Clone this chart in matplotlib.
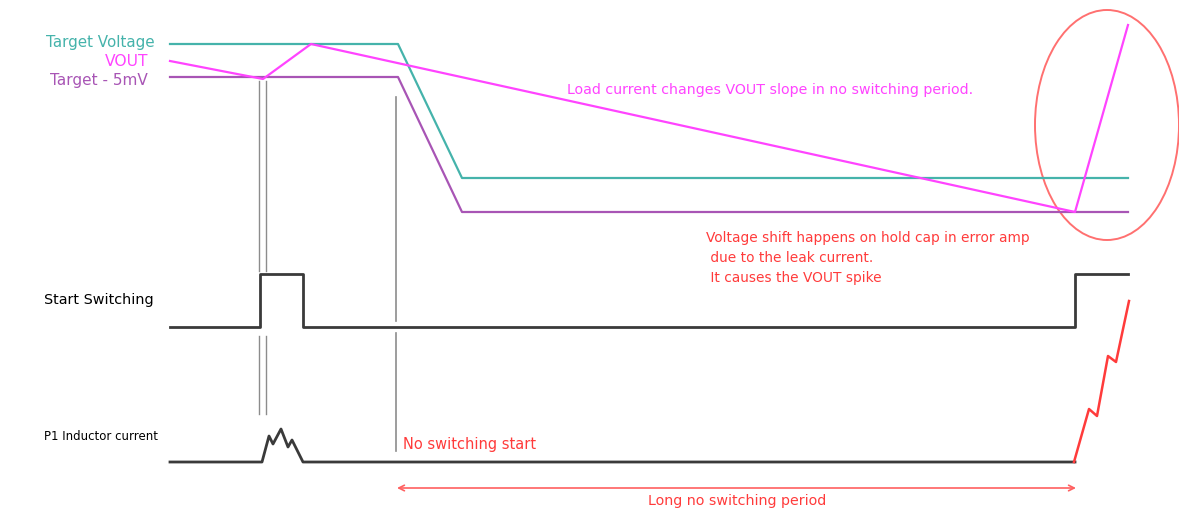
"""
Timing diagram: VOUT behaviour during a long no-switching period.
"""

import matplotlib.pyplot as plt
from matplotlib.patches import Ellipse

# waveform vertices (time axis, level axis), pixel units
target_t = [170, 398, 462, 1128]
target_v = [44, 44, 178, 178]

target_5mv_t = [170, 398, 462, 1128]
target_5mv_v = [77, 77, 212, 212]

vout_t = [170, 263, 311, 1075, 1128]
vout_v = [61, 79, 44, 212, 25]

start_sw_t = [170, 260, 260, 303, 303, 1075, 1075, 1128]
start_sw_v = [327, 327, 274, 274, 327, 327, 274, 274]

inductor_t = [170, 262, 269, 273, 281, 288, 292, 303, 1075]
inductor_v = [462, 462, 436, 444, 429, 447, 440, 462, 462]

ramp_t = [1074, 1089, 1097, 1108, 1116, 1129]
ramp_v = [462, 409, 416, 356, 362, 301]

TEAL = "#45B3AB"
MAGENTA = "#FF44FF"
PURPLE = "#A855B5"
RED = "#FF3B3B"
BLACK = "#3A3A3A"
GRAY = "#8C8C8C"

fig = plt.figure(figsize=(11.79, 5.14), dpi=100)
ax = fig.add_axes([0, 0, 1, 1])
ax.set_xlim(0, 1179)
ax.set_ylim(514, 0)
ax.axis("off")

# marker lines (gray, thin)
for x in (259, 266):
    ax.plot([x, x], [81, 271], color=GRAY, lw=1.0)
    ax.plot([x, x], [336, 414], color=GRAY, lw=1.0)
ax.plot([396, 396], [97, 321], color=GRAY, lw=1.2)
ax.plot([396, 396], [333, 451], color=GRAY, lw=1.2)

# voltage traces
ax.plot(target_t, target_v, color=TEAL, lw=1.6)
ax.plot(target_5mv_t, target_5mv_v, color=PURPLE, lw=1.6)
ax.plot(vout_t, vout_v, color=MAGENTA, lw=1.6)

# digital / current traces
ax.plot(start_sw_t, start_sw_v, color=BLACK, lw=2.0)
ax.plot(inductor_t, inductor_v, color=BLACK, lw=2.0)
ax.plot(ramp_t, ramp_v, color=RED, lw=1.8)

# spike highlight
ax.add_patch(Ellipse((1107, 125), 144, 230, fill=False, edgecolor="#FF7070", lw=1.4))

# long no-switching arrow
ax.annotate("", xy=(397, 488), xytext=(1076, 488),
            arrowprops=dict(arrowstyle="<->", color="#FF6060", lw=1.2,
                            shrinkA=0, shrinkB=0, mutation_scale=10))
ax.text(737, 501, "Long no switching period", color=RED, fontsize=10.3,
        ha="center", va="center")

# trace labels
ax.text(155, 42, "Target Voltage", color=TEAL, fontsize=10.9, ha="right", va="center")
ax.text(148, 61, "VOUT", color=MAGENTA, fontsize=11.2, ha="right", va="center")
ax.text(148, 80, "Target - 5mV", color=PURPLE, fontsize=11, ha="right", va="center")
ax.text(44, 300, "Start Switching", color="black", fontsize=10.4, ha="left", va="center")
ax.text(44, 437, "P1 Inductor current", color="black", fontsize=8.5, ha="left", va="center")

# annotations
ax.text(567, 90, "Load current changes VOUT slope in no switching period.",
        color=MAGENTA, fontsize=10.2, ha="left", va="center")
ax.text(706, 238, "Voltage shift happens on hold cap in error amp",
        color=RED, fontsize=9.9, ha="left", va="center")
ax.text(706, 258, " due to the leak current.", color=RED, fontsize=9.9,
        ha="left", va="center")
ax.text(706, 278, " It causes the VOUT spike", color=RED, fontsize=9.9,
        ha="left", va="center")
ax.text(403, 445, "No switching start", color=RED, fontsize=10.5,
        ha="left", va="center")

plt.savefig("out.png", dpi=100)
plt.close()
print("saved out.png")
